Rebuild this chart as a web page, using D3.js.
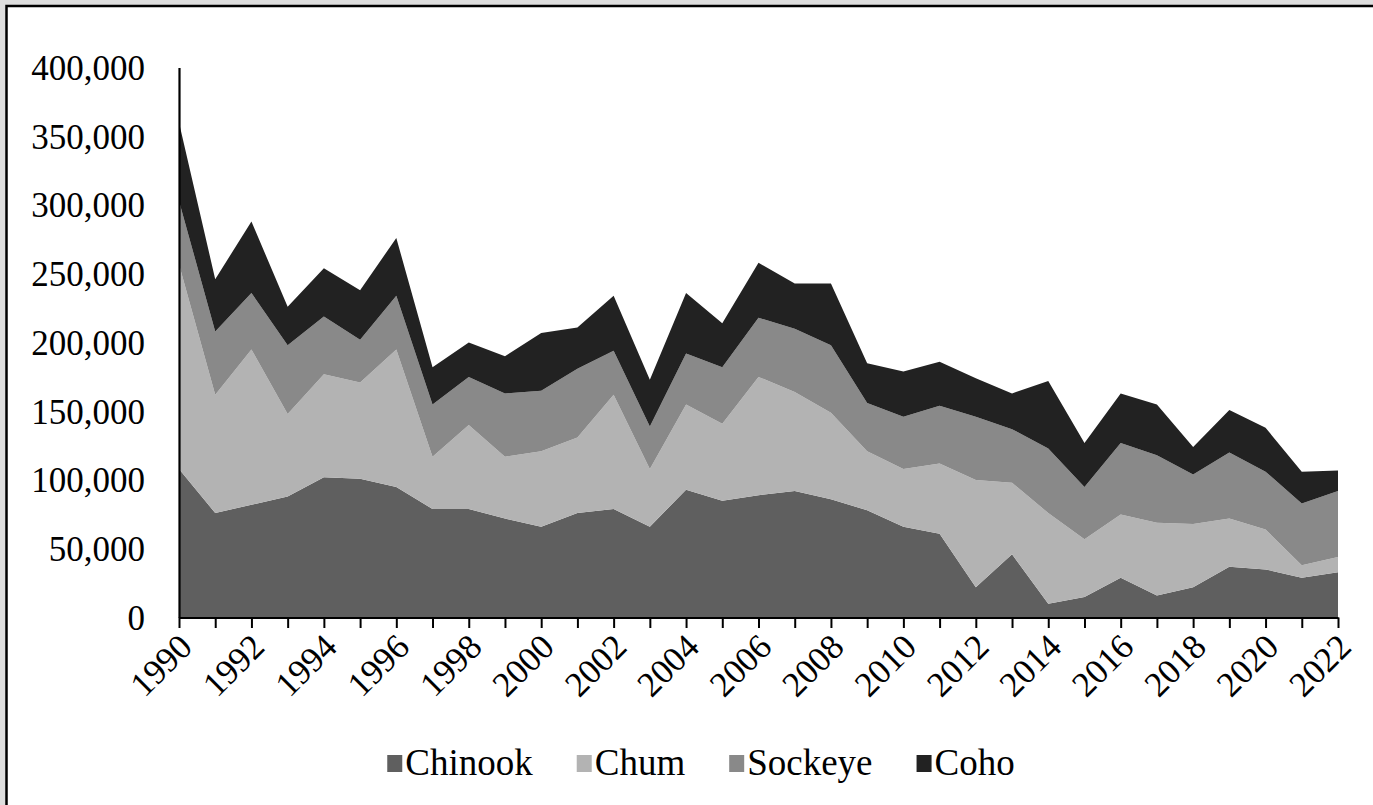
<!DOCTYPE html>
<html>
<head>
<meta charset="utf-8">
<script src="https://cdn.jsdelivr.net/npm/d3@7"></script>
<style>
  html, body { margin: 0; padding: 0; background: #ffffff; }
  svg { display: block; }
  text { font-family: "Liberation Serif", "Times New Roman", serif; fill: #000; }
</style>
</head>
<body>
<svg id="chart" width="1373" height="805"></svg>
<script>
const years = [1990,1991,1992,1993,1994,1995,1996,1997,1998,1999,2000,2001,2002,2003,2004,2005,2006,2007,2008,2009,2010,2011,2012,2013,2014,2015,2016,2017,2018,2019,2020,2021,2022];
const seriesNames = ["Chinook", "Chum", "Sockeye", "Coho"];
const chinook = [108000,76000,82000,88000,102000,101000,95000,79000,79000,72000,66000,76000,79000,66000,93000,85000,89000,92000,86000,78000,66000,61000,22000,46000,10000,15000,29000,16000,22000,37000,35000,29000,33000];
const chum    = [149000,86000,113000,60000,75000,70000,100000,38000,61000,45000,55000,55000,83000,42000,62000,56000,86000,72000,63000,43000,42000,51000,78000,52000,66000,42000,46000,53000,46000,35000,29000,9000,11000];
const sockeye = [46000,46000,41000,50000,42000,31000,39000,38000,35000,46000,44000,50000,32000,31000,37000,41000,43000,46000,49000,35000,38000,42000,46000,39000,47000,38000,52000,49000,36000,48000,42000,45000,48000];
const coho    = [57000,38000,52000,28000,35000,36000,42000,27000,25000,27000,42000,30000,40000,34000,44000,32000,40000,33000,45000,29000,33000,32000,28000,26000,49000,32000,36000,37000,20000,31000,32000,23000,15000];
const yTicks = [0,50000,100000,150000,200000,250000,300000,350000,400000];
const xLabelYears = years.filter((y, i) => i % 2 === 0);
const colors = ["#5f5f5f", "#b3b3b3", "#898989", "#222222"];

const rows = years.map((yr, i) => ({year: yr, Chinook: chinook[i], Chum: chum[i], Sockeye: sockeye[i], Coho: coho[i]}));

const svg = d3.select("#chart");
const W = 1373, H = 805;

// outer frame with light shadow
svg.append("rect").attr("x", 0).attr("y", 0).attr("width", W).attr("height", H).attr("fill", "#dedede");
svg.append("rect").attr("x", 6.5).attr("y", 6).attr("width", W + 20).attr("height", H + 20)
  .attr("fill", "#ffffff").attr("stroke", "#000").attr("stroke-width", 2.5);

const x = d3.scaleLinear().domain([1990, 2022]).range([179, 1338]);
const y = d3.scaleLinear().domain([0, 400000]).range([617.5, 67.5]);

const stack = d3.stack().keys(seriesNames);
const layers = stack(rows);

const area = d3.area()
  .x(d => x(d.data.year))
  .y0(d => y(d[0]))
  .y1(d => y(d[1]));

svg.append("g").selectAll("path")
  .data(layers)
  .join("path")
  .attr("d", area)
  .attr("fill", (d, i) => colors[i]);

// Y axis
const yAxis = d3.axisLeft(y).tickValues(yTicks).tickSize(0).tickPadding(34)
  .tickFormat(d3.format(","));
const gy = svg.append("g").attr("transform", "translate(179,0)").call(yAxis);
gy.select(".domain").attr("stroke", "#000").attr("stroke-width", 2.2);
gy.selectAll("text").attr("font-size", 35).attr("font-family", "Liberation Serif").attr("fill", "#000").attr("dy", "0.34em");

// X axis
const xAxis = d3.axisBottom(x).tickValues(years).tickSize(10.5).tickSizeOuter(0).tickFormat("");
const gx = svg.append("g").attr("transform", "translate(0,617.5)").call(xAxis);
gx.select(".domain").attr("stroke", "#000").attr("stroke-width", 2.2);
gx.selectAll(".tick line").attr("stroke", "#000").attr("stroke-width", 2);

svg.append("g").selectAll("text")
  .data(xLabelYears)
  .join("text")
  .attr("transform", d => `translate(${x(d) + 15},${649}) rotate(-45)`)
  .attr("text-anchor", "end")
  .attr("font-size", 35)
  .text(d => d);

// Legend
const legend = svg.append("g");
const items = legend.selectAll("g").data(seriesNames).join("g");
items.append("rect").attr("width", 15).attr("height", 17).attr("y", -20)
  .attr("fill", (d, i) => colors[i]);
items.append("text").attr("x", 18).attr("font-size", 37).text(d => d);
const gap = 44;
const widths = [];
items.each(function(d) {
  const tw = d3.select(this).select("text").node().getComputedTextLength();
  widths.push(18 + tw);
});
const total = widths.reduce((a, b) => a + b, 0) + gap * (widths.length - 1);
let start = 701 - total / 2;
items.attr("transform", (d, i) => {
  const t = `translate(${start},775)`;
  start += widths[i] + gap;
  return t;
});
</script>
</body>
</html>
